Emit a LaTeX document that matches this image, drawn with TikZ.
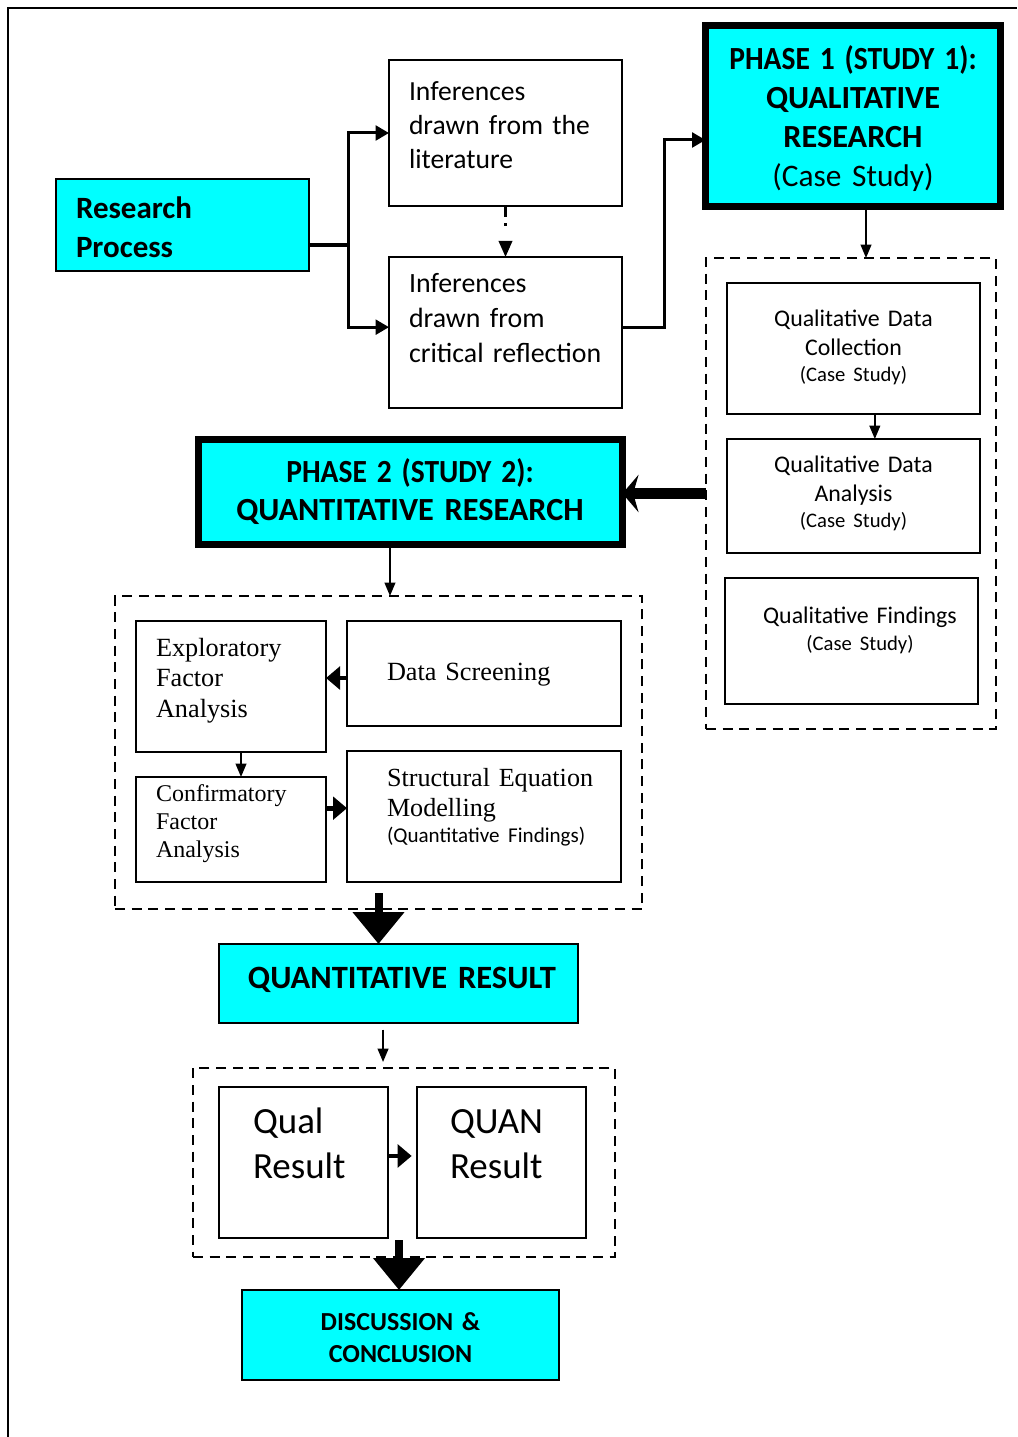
\documentclass[tikz,border=0pt]{standalone}
\usepackage{graphicx}
\usepackage{fontspec}
\setmainfont{Carlito}
\newfontfamily\tnr{Liberation Serif}
\usetikzlibrary{arrows.meta,calc}
\definecolor{aqua}{RGB}{0,255,255}
\newcommand{\narrowline}[1]{\scalebox{0.915}[1]{#1}}
\begin{document}
\begin{tikzpicture}[x=0.75pt,y=-0.75pt,
  box/.style={draw,line width=1.5pt,inner sep=0pt,outer sep=0pt},
  cyanbox/.style={box,fill=aqua},
  phasebox/.style={draw,fill=aqua,line width=5.25pt,inner sep=0pt,outer sep=0pt},
  group/.style={draw,dash pattern=on 7.5pt off 5pt,line width=1.6pt,inner sep=0pt,outer sep=0pt},
  ltxt/.style={inner sep=0pt,outer sep=0pt,align=left,anchor=base west},
  ctxt/.style={inner sep=0pt,outer sep=0pt,align=center,anchor=base},
  trunk/.style={line width=3.4pt},
  lnk/.style={line width=2.25pt,-{Triangle[length=10pt,width=11pt]}},
  thinarrow/.style={line width=1.4pt,-{Triangle[length=10pt,width=8pt]}},
  dotarrow/.style={line width=1.8pt,dash pattern=on 8.5pt off 4.5pt on 2pt off 20pt,-{Triangle[length=12pt,width=10pt]}},
  stub/.style={line width=3.5pt,-{Triangle[length=10.5pt,width=17pt]}},
  bigarrow/.style={line width=6pt,-{Triangle[length=24pt,width=37.5pt]}},
  heavyarrow/.style={line width=8pt,-{Stealth[length=12pt,width=28pt,inset=4pt]}}
]
\useasboundingbox (0,0) rectangle (1017,1437);
% page frame (left and top edges)
\draw[line width=1.5pt] (8,1437) -- (8,8) -- (1017,8);

% ---------- boxes ----------
\node[cyanbox,minimum width=189.75pt,minimum height=69pt] (rp) at (182.5,225) {};
\node[box,minimum width=174.75pt,minimum height=109.5pt] (lit) at (505.5,133) {};
\node[box,minimum width=174.75pt,minimum height=113.25pt] (crit) at (505.5,332.5) {};
\node[phasebox,minimum width=221.25pt,minimum height=135.75pt] (ph1) at (853,116) {};

\node[group,minimum width=217.5pt,minimum height=353.25pt] (qbox) at (851,493.5) {};
\node[box,minimum width=189.75pt,minimum height=98.25pt] (qdc) at (853.5,348.5) {};
\node[box,minimum width=189.75pt,minimum height=85.5pt] (qda) at (853.5,496) {};
\node[box,minimum width=189.75pt,minimum height=94.5pt] (qf) at (851.5,641) {};

\node[phasebox,minimum width=318pt,minimum height=78.75pt] (ph2) at (410.5,492) {};

\node[group,minimum width=395.25pt,minimum height=234.75pt] (nbox) at (378.5,752.5) {};
\node[box,minimum width=142.5pt,minimum height=98.25pt] (efa) at (231,686.5) {};
\node[box,minimum width=205.5pt,minimum height=78.75pt] (ds) at (484,673.5) {};
\node[box,minimum width=142.5pt,minimum height=78.75pt] (cfa) at (231,829.5) {};
\node[box,minimum width=205.5pt,minimum height=98.25pt] (sem) at (484,816.5) {};

\node[cyanbox,minimum width=269.25pt,minimum height=59.25pt] (qr) at (398.5,983.5) {};

\node[group,minimum width=316.5pt,minimum height=141.75pt] (rbox) at (404,1162.5) {};
\node[box,minimum width=126.75pt,minimum height=113.25pt] (qual) at (303.5,1162.5) {};
\node[box,minimum width=126.75pt,minimum height=113.25pt] (quan) at (501.5,1162.5) {};

\node[cyanbox,minimum width=237.75pt,minimum height=67.5pt] (dc) at (400.5,1335) {};

% ---------- texts ----------
\node[ltxt,text width=160pt,font=\fontsize{23.25pt}{29.25pt}\selectfont\bfseries] (rp-t) at (76,219) {Research\\Process};
\node[ltxt,text width=160pt,font=\fontsize{20.7pt}{25.5pt}\selectfont] (lit-t) at (409,101) {Inferences\\drawn from the\\literature};
\node[ltxt,text width=160pt,font=\fontsize{20.9pt}{25.9pt}\selectfont] (crit-t) at (409,293) {Inferences\\drawn from\\critical reflection};
\node[ctxt,text width=215pt,font=\fontsize{24.2pt}{29.25pt}\selectfont\bfseries] (ph1-t) at (853,70)
  {\narrowline{PHASE 1 (STUDY 1):}\\QUALITATIVE\\RESEARCH\\{\mdseries\fontsize{23.5pt}{29.25pt}\selectfont (Case Study)}};

\node[ctxt,text width=180pt,font=\fontsize{17.9pt}{21.75pt}\selectfont] (qdc-t) at (853.5,326)
  {Qualitative Data\\Collection\\[-2.25pt]{\fontsize{15.5pt}{19pt}\selectfont (Case Study)}};
\node[ctxt,text width=180pt,font=\fontsize{17.9pt}{21.75pt}\selectfont] (qda-t) at (853.5,472)
  {Qualitative Data\\Analysis\\[-2.25pt]{\fontsize{15.5pt}{19pt}\selectfont (Case Study)}};
\node[ctxt,text width=180pt,font=\fontsize{17.9pt}{20.25pt}\selectfont] (qf-t) at (860,623)
  {Qualitative Findings\\{\fontsize{15.5pt}{19pt}\selectfont (Case Study)}};

\node[ctxt,text width=310pt,font=\fontsize{24.2pt}{28.5pt}\selectfont\bfseries] (ph2-t) at (410,482)
  {\narrowline{PHASE 2 (STUDY 2):}\\QUANTITATIVE RESEARCH};

\node[ltxt,text width=130pt,font=\tnr\fontsize{19.7pt}{23pt}\selectfont] (efa-t) at (156,656) {Exploratory\\Factor\\Analysis};
\node[ltxt,text width=150pt,font=\tnr\fontsize{19.7pt}{23pt}\selectfont] (ds-t) at (387,680) {Data Screening};
\node[ltxt,text width=130pt,font=\tnr\fontsize{18pt}{21pt}\selectfont] (cfa-t) at (156,801) {Confirmatory\\Factor\\Analysis};
\node[ltxt,text width=170pt,font=\tnr\fontsize{19.6pt}{22.5pt}\selectfont] (sem-t) at (387,786)
  {Structural Equation\\Modelling\\[-3pt]{\rmfamily\fontsize{15.8pt}{19pt}\selectfont (Quantitative Findings)}};

\node[ctxt,text width=260pt,font=\fontsize{24.4pt}{28.5pt}\selectfont\bfseries] (qr-t) at (402,988) {QUANTITATIVE RESULT};

\node[ltxt,text width=110pt,font=\fontsize{27.7pt}{33.75pt}\selectfont] (qual-t) at (253,1133) {Qual\\Result};
\node[ltxt,text width=110pt,font=\fontsize{27.7pt}{33.75pt}\selectfont] (quan-t) at (450,1133) {QUAN\\Result};

\node[ctxt,text width=230pt,font=\fontsize{19.5pt}{24.5pt}\selectfont\bfseries] (dc-t) at (400.5,1330) {DISCUSSION \&\\CONCLUSION};

% ---------- connectors ----------
\coordinate (j1) at (348,245);
\coordinate (j2) at (664,140);
\draw[trunk] ([yshift=-15pt]rp.east) -- (j1);
\draw[lnk] (j1) |- (lit.west);
\draw[lnk] (j1) |- ([yshift=4pt]crit.west);
\draw[dotarrow] (lit.south) -- (crit.north);
\draw[lnk] ([yshift=4pt]crit.east) -| (j2) -- (j2 -| ph1.west);

\draw[thinarrow] ([xshift=9.75pt]ph1.south) -- ([xshift=9.75pt]ph1.south |- qbox.north);
\draw[thinarrow] ([xshift=16pt]qdc.south) -- ([xshift=16pt]qdc.south |- qda.north);
\draw[heavyarrow] (qbox.west) -- (qbox.west -| ph2.east);

\draw[thinarrow] ([xshift=-15.4pt]ph2.south) -- ([xshift=-15.4pt]ph2.south |- nbox.north);
\draw[stub] ([yshift=-3.4pt]ds.west) -- ([yshift=-3.4pt]ds.west -| efa.east);
\draw[thinarrow] ([xshift=7.5pt]efa.south) -- ([xshift=7.5pt]efa.south |- cfa.north);
\draw[stub] ([yshift=16pt]cfa.east) -- ([yshift=16pt]cfa.east -| sem.west);
\draw[bigarrow] ([yshift=12pt]nbox.south) -- (nbox.south |- qr.north);

\draw[thinarrow,shorten >=4.5pt] ([xshift=-11.6pt,yshift=-5pt]qr.south) -- ([xshift=-11.6pt]qr.south |- rbox.north);
\draw[stub,shorten >=4pt] ([yshift=4.9pt]qual.east) -- ([yshift=4.9pt]qual.east -| quan.west);
\draw[bigarrow] ([xshift=-3.75pt,yshift=12.75pt]rbox.south) -- ([xshift=-3.75pt]rbox.south |- dc.north);
\end{tikzpicture}
\end{document}
